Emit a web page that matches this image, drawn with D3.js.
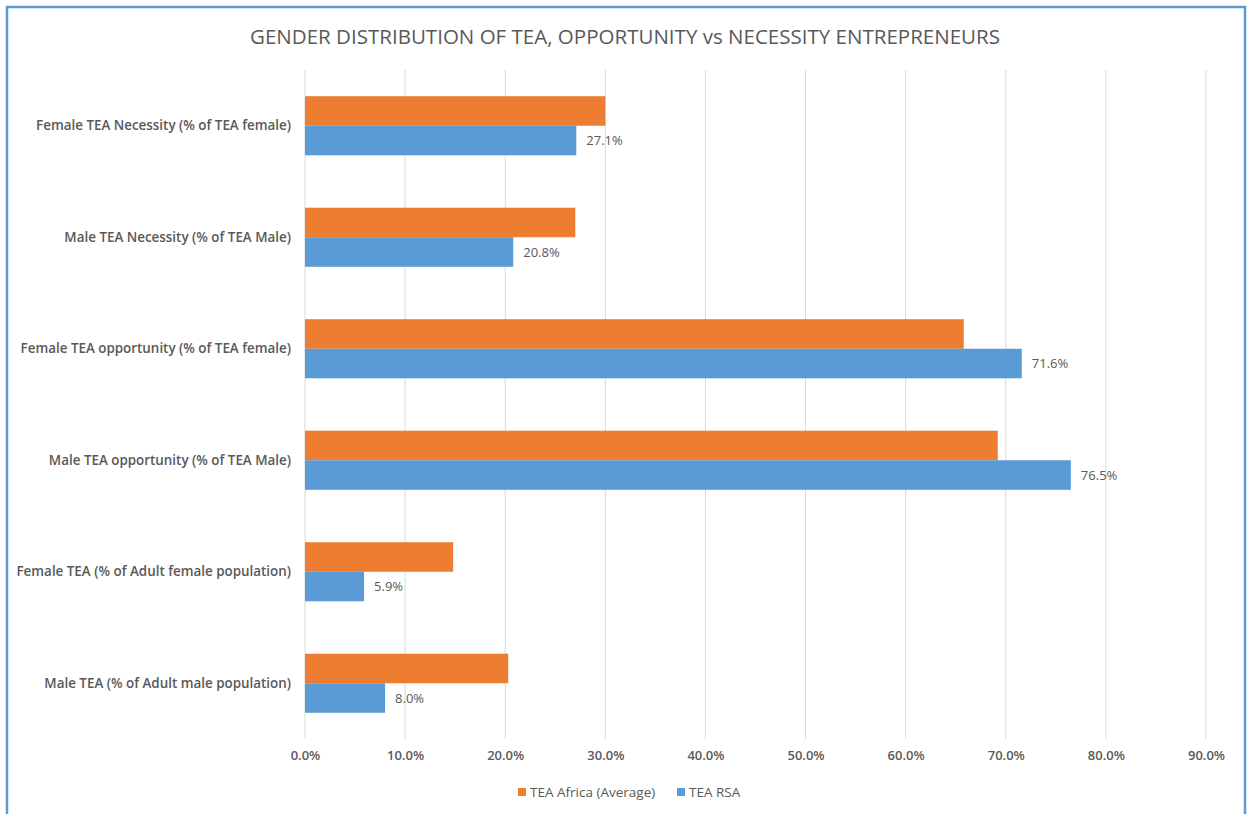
<!DOCTYPE html>
<html>
<head>
<meta charset="utf-8">
<script src="https://cdn.jsdelivr.net/npm/d3@7"></script>
<style>
html,body{margin:0;padding:0;background:#fff;}
svg{display:block;}
text{font-family:"Open Sans","Liberation Sans",sans-serif;}
</style>
</head>
<body>
<svg id="chart" width="1250" height="814"></svg>
<script>
const categories = [
  "Female TEA Necessity (% of TEA female)",
  "Male TEA Necessity (% of TEA Male)",
  "Female TEA opportunity (% of TEA female)",
  "Male TEA opportunity (% of TEA Male)",
  "Female TEA (% of Adult female population)",
  "Male TEA (% of Adult male population)"
];
const seriesNames = ["TEA Africa (Average)", "TEA RSA"];
const teaAfrica = [30.0, 27.0, 65.8, 69.2, 14.8, 20.3];
const teaRSA = [27.1, 20.8, 71.6, 76.5, 5.9, 8.0];
const xTicks = [0, 10, 20, 30, 40, 50, 60, 70, 80, 90];
const title = "GENDER DISTRIBUTION OF TEA, OPPORTUNITY vs NECESSITY ENTREPRENEURS";

const colors = {"TEA Africa (Average)": "#ed7d31", "TEA RSA": "#5b9bd5"};
const svg = d3.select("#chart");

// border
svg.append("rect").attr("x", 7).attr("y", 7).attr("width", 1238).attr("height", 830)
  .attr("fill", "#fff").attr("stroke", "#5b9bd5").attr("stroke-width", 2.5);

const plot = {left: 305, right: 1206, top: 70, bottom: 739};

const x = d3.scaleLinear().domain([0, 90]).range([plot.left, plot.right]);
const y = d3.scaleBand().domain(categories).range([plot.top, plot.bottom])
  .paddingInner(0.47).paddingOuter(0.235);
const ys = d3.scaleBand().domain(seriesNames).range([0, y.bandwidth()]);

// title
const t = svg.append("text").attr("x", 625).attr("y", 44).attr("text-anchor", "middle")
  .attr("font-size", 20).attr("fill", "#595959").text(title);
{
  const len = t.node().getComputedTextLength();
  if (len > 0) t.attr("textLength", 750).attr("lengthAdjust", "spacingAndGlyphs");
}

// gridlines
svg.append("g").selectAll("line").data(xTicks).join("line")
  .attr("x1", d => x(d)).attr("x2", d => x(d))
  .attr("y1", plot.top).attr("y2", plot.bottom)
  .attr("stroke", "#d9d9d9").attr("stroke-width", 1);

// x axis tick labels
const xAxis = d3.axisBottom(x).tickValues(xTicks).tickSize(0).tickPadding(0)
  .tickFormat(d => d.toFixed(1) + "%");
const gx = svg.append("g").attr("transform", `translate(0,${plot.bottom + 12})`).call(xAxis);
gx.select(".domain").remove();
gx.selectAll("text").attr("font-size", 13).attr("font-weight", 600).attr("fill", "#595959")
  .attr("font-family", '"Open Sans","Liberation Sans",sans-serif');

// y axis labels
const yAxis = d3.axisLeft(y).tickSize(0).tickPadding(0);
const gy = svg.append("g").attr("transform", `translate(${plot.left - 14},0)`).call(yAxis);
gy.select(".domain").remove();
gy.selectAll("text").attr("font-size", 13.4).attr("font-weight", 600).attr("fill", "#595959")
  .attr("font-family", '"Open Sans","Liberation Sans",sans-serif');

// bars
const rows = categories.map((c, i) => ({cat: c, vals: [
  {s: seriesNames[0], v: teaAfrica[i]},
  {s: seriesNames[1], v: teaRSA[i]}
]}));
const grp = svg.append("g").selectAll("g").data(rows).join("g")
  .attr("transform", d => `translate(0,${y(d.cat)})`);
grp.selectAll("rect").data(d => d.vals).join("rect")
  .attr("x", x(0)).attr("y", d => ys(d.s))
  .attr("width", d => x(d.v) - x(0)).attr("height", ys.bandwidth())
  .attr("fill", d => colors[d.s]);

// data labels for RSA
grp.append("text")
  .attr("x", (d, i) => x(teaRSA[i]) + 10)
  .attr("y", ys(seriesNames[1]) + ys.bandwidth() / 2)
  .attr("dy", "0.35em").attr("font-size", 13).attr("fill", "#595959")
  .text((d, i) => teaRSA[i].toFixed(1) + "%");

// legend
const legend = svg.append("g").attr("transform", "translate(0,792)");
const legendX = [518, 677];
seriesNames.forEach((s, i) => {
  const g = legend.append("g").attr("transform", `translate(${legendX[i]},0)`);
  g.append("rect").attr("x", 0).attr("y", -4).attr("width", 8).attr("height", 8).attr("fill", colors[s]);
  g.append("text").attr("x", 12).attr("y", 0).attr("dy", "0.35em")
    .attr("font-size", 13.5).attr("fill", "#595959").text(s);
});
</script>
</body>
</html>
